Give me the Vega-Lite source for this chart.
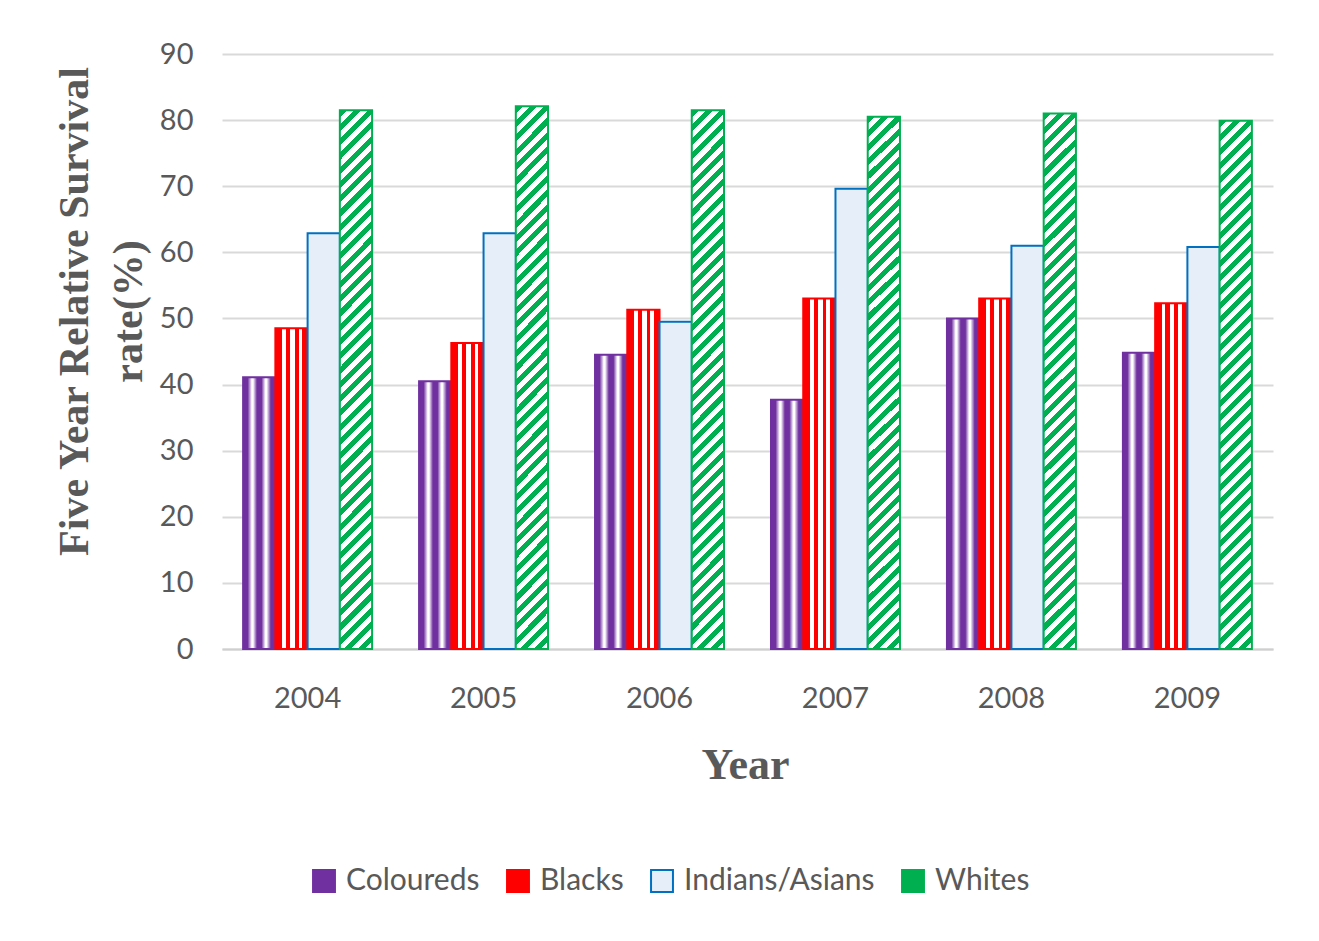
{
  "$schema": "https://vega.github.io/schema/vega-lite/v6.json",
  "autosize": {"type": "none"},
  "width": 1051,
  "height": 595,
  "padding": {"left": 222, "top": 54, "right": 46, "bottom": 292},
  "background": "white",
  "config": {"view": {"stroke": null}, "font": "Lato"},
  "data": {"values": [
    {"year": "2004", "group": "Coloureds", "value": 41.1},
    {"year": "2004", "group": "Blacks", "value": 48.5},
    {"year": "2004", "group": "Indians/Asians", "value": 62.9},
    {"year": "2004", "group": "Whites", "value": 81.5},
    {"year": "2005", "group": "Coloureds", "value": 40.5},
    {"year": "2005", "group": "Blacks", "value": 46.3},
    {"year": "2005", "group": "Indians/Asians", "value": 62.9},
    {"year": "2005", "group": "Whites", "value": 82.1},
    {"year": "2006", "group": "Coloureds", "value": 44.5},
    {"year": "2006", "group": "Blacks", "value": 51.3},
    {"year": "2006", "group": "Indians/Asians", "value": 49.5},
    {"year": "2006", "group": "Whites", "value": 81.5},
    {"year": "2007", "group": "Coloureds", "value": 37.7},
    {"year": "2007", "group": "Blacks", "value": 53.0},
    {"year": "2007", "group": "Indians/Asians", "value": 69.6},
    {"year": "2007", "group": "Whites", "value": 80.5},
    {"year": "2008", "group": "Coloureds", "value": 50.0},
    {"year": "2008", "group": "Blacks", "value": 53.0},
    {"year": "2008", "group": "Indians/Asians", "value": 61.0},
    {"year": "2008", "group": "Whites", "value": 81.0},
    {"year": "2009", "group": "Coloureds", "value": 44.8},
    {"year": "2009", "group": "Blacks", "value": 52.3},
    {"year": "2009", "group": "Indians/Asians", "value": 60.8},
    {"year": "2009", "group": "Whites", "value": 79.9}
  ]},
  "mark": {"type": "bar", "strokeWidth": 2},
  "encoding": {
    "x": {
      "field": "year", "type": "nominal",
      "scale": {"paddingInner": 0.267, "paddingOuter": 0.12},
      "axis": {
        "labelAngle": 0, "domain": true, "domainColor": "#cfcfcf", "domainWidth": 2,
        "ticks": false, "labelFontSize": 29, "labelColor": "#595959", "labelPadding": 35,
        "title": "Year", "titleFont": "Liberation Serif", "titleFontSize": 44,
        "titleFontWeight": "bold", "titleColor": "#595959", "titleBaseline": "alphabetic",
        "titleX": 523, "titleY": 129
      }
    },
    "xOffset": {
      "field": "group", "type": "nominal",
      "sort": ["Coloureds", "Blacks", "Indians/Asians", "Whites"],
      "scale": {"paddingInner": 0, "paddingOuter": 0}
    },
    "y": {
      "field": "value", "type": "quantitative",
      "scale": {"domain": [0, 90]},
      "axis": {
        "values": [0, 10, 20, 30, 40, 50, 60, 70, 80, 90],
        "grid": true, "gridColor": "#d9d9d9", "gridWidth": 2,
        "domain": false, "ticks": false,
        "labelFontSize": 29, "labelColor": "#595959", "labelPadding": 29,
        "title": ["Five Year Relative Survival", "rate(%)"],
        "titleFont": "Liberation Serif", "titleFontSize": 42, "titleFontWeight": "bold",
        "titleColor": "#595959", "titleLineHeight": 54, "titleBaseline": "bottom",
        "titleAngle": -90, "titleAlign": "center",
        "titleX": -126, "titleY": 257
      }
    },
    "fill": {
      "field": "group", "type": "nominal",
      "scale": {
        "domain": ["Coloureds", "Blacks", "Indians/Asians", "Whites"],
        "range": ["#7030a0", "#ff0000", "#e6eff9", "#00b050"]
      },
      "legend": {
        "orient": "none", "legendX": 87, "legendY": 812,
        "direction": "horizontal", "title": null,
        "symbolType": "square", "symbolSize": 480, "symbolStrokeWidth": 2,
        "labelFontSize": 30, "labelColor": "#595959", "labelFont": "Lato", "labelLimit": 400,
        "columnPadding": 23, "labelOffset": 7
      },
      "condition": [
        {"test": "datum.group === 'Coloureds'", "value": {"gradient": "linear", "x1": 0, "y1": 0, "x2": 1, "y2": 0, "stops": [
          {"offset": 0, "color": "#7030a0"}, {"offset": 0.14, "color": "#7030a0"},
          {"offset": 0.27, "color": "#ffffff"}, {"offset": 0.31, "color": "#ffffff"},
          {"offset": 0.43, "color": "#7030a0"}, {"offset": 0.57, "color": "#7030a0"},
          {"offset": 0.69, "color": "#ffffff"}, {"offset": 0.73, "color": "#ffffff"},
          {"offset": 0.86, "color": "#7030a0"}, {"offset": 1, "color": "#7030a0"}
        ]}},
        {"test": "datum.group === 'Blacks'", "value": {"gradient": "linear", "x1": 0, "y1": 0, "x2": 1, "y2": 0, "stops": [
          {"offset": 0, "color": "#ff0000"}, {"offset": 0.2, "color": "#ff0000"},
          {"offset": 0.2, "color": "#ffffff"}, {"offset": 0.32, "color": "#ffffff"},
          {"offset": 0.32, "color": "#ff0000"}, {"offset": 0.46, "color": "#ff0000"},
          {"offset": 0.46, "color": "#ffffff"}, {"offset": 0.6, "color": "#ffffff"},
          {"offset": 0.6, "color": "#ff0000"}, {"offset": 0.72, "color": "#ff0000"},
          {"offset": 0.72, "color": "#ffffff"}, {"offset": 0.84, "color": "#ffffff"},
          {"offset": 0.84, "color": "#ff0000"}, {"offset": 1, "color": "#ff0000"}
        ]}},
        {"test": "datum.group === 'Whites'", "value": {"gradient": "linear", "x1": 0, "y1": 0, "x2": 0.0634, "y2": 1.056, "stops": [
          {"offset": 0, "color": "#00b050"},
          {"offset": 0.0125, "color": "#00b050"}, {"offset": 0.0125, "color": "#ffffff"},
          {"offset": 0.025, "color": "#ffffff"}, {"offset": 0.025, "color": "#00b050"},
          {"offset": 0.0375, "color": "#00b050"}, {"offset": 0.0375, "color": "#ffffff"},
          {"offset": 0.05, "color": "#ffffff"}, {"offset": 0.05, "color": "#00b050"},
          {"offset": 0.0625, "color": "#00b050"}, {"offset": 0.0625, "color": "#ffffff"},
          {"offset": 0.075, "color": "#ffffff"}, {"offset": 0.075, "color": "#00b050"},
          {"offset": 0.0875, "color": "#00b050"}, {"offset": 0.0875, "color": "#ffffff"},
          {"offset": 0.1, "color": "#ffffff"}, {"offset": 0.1, "color": "#00b050"},
          {"offset": 0.1125, "color": "#00b050"}, {"offset": 0.1125, "color": "#ffffff"},
          {"offset": 0.125, "color": "#ffffff"}, {"offset": 0.125, "color": "#00b050"},
          {"offset": 0.1375, "color": "#00b050"}, {"offset": 0.1375, "color": "#ffffff"},
          {"offset": 0.15, "color": "#ffffff"}, {"offset": 0.15, "color": "#00b050"},
          {"offset": 0.1625, "color": "#00b050"}, {"offset": 0.1625, "color": "#ffffff"},
          {"offset": 0.175, "color": "#ffffff"}, {"offset": 0.175, "color": "#00b050"},
          {"offset": 0.1875, "color": "#00b050"}, {"offset": 0.1875, "color": "#ffffff"},
          {"offset": 0.2, "color": "#ffffff"}, {"offset": 0.2, "color": "#00b050"},
          {"offset": 0.2125, "color": "#00b050"}, {"offset": 0.2125, "color": "#ffffff"},
          {"offset": 0.225, "color": "#ffffff"}, {"offset": 0.225, "color": "#00b050"},
          {"offset": 0.2375, "color": "#00b050"}, {"offset": 0.2375, "color": "#ffffff"},
          {"offset": 0.25, "color": "#ffffff"}, {"offset": 0.25, "color": "#00b050"},
          {"offset": 0.2625, "color": "#00b050"}, {"offset": 0.2625, "color": "#ffffff"},
          {"offset": 0.275, "color": "#ffffff"}, {"offset": 0.275, "color": "#00b050"},
          {"offset": 0.2875, "color": "#00b050"}, {"offset": 0.2875, "color": "#ffffff"},
          {"offset": 0.3, "color": "#ffffff"}, {"offset": 0.3, "color": "#00b050"},
          {"offset": 0.3125, "color": "#00b050"}, {"offset": 0.3125, "color": "#ffffff"},
          {"offset": 0.325, "color": "#ffffff"}, {"offset": 0.325, "color": "#00b050"},
          {"offset": 0.3375, "color": "#00b050"}, {"offset": 0.3375, "color": "#ffffff"},
          {"offset": 0.35, "color": "#ffffff"}, {"offset": 0.35, "color": "#00b050"},
          {"offset": 0.3625, "color": "#00b050"}, {"offset": 0.3625, "color": "#ffffff"},
          {"offset": 0.375, "color": "#ffffff"}, {"offset": 0.375, "color": "#00b050"},
          {"offset": 0.3875, "color": "#00b050"}, {"offset": 0.3875, "color": "#ffffff"},
          {"offset": 0.4, "color": "#ffffff"}, {"offset": 0.4, "color": "#00b050"},
          {"offset": 0.4125, "color": "#00b050"}, {"offset": 0.4125, "color": "#ffffff"},
          {"offset": 0.425, "color": "#ffffff"}, {"offset": 0.425, "color": "#00b050"},
          {"offset": 0.4375, "color": "#00b050"}, {"offset": 0.4375, "color": "#ffffff"},
          {"offset": 0.45, "color": "#ffffff"}, {"offset": 0.45, "color": "#00b050"},
          {"offset": 0.4625, "color": "#00b050"}, {"offset": 0.4625, "color": "#ffffff"},
          {"offset": 0.475, "color": "#ffffff"}, {"offset": 0.475, "color": "#00b050"},
          {"offset": 0.4875, "color": "#00b050"}, {"offset": 0.4875, "color": "#ffffff"},
          {"offset": 0.5, "color": "#ffffff"}, {"offset": 0.5, "color": "#00b050"},
          {"offset": 0.5125, "color": "#00b050"}, {"offset": 0.5125, "color": "#ffffff"},
          {"offset": 0.525, "color": "#ffffff"}, {"offset": 0.525, "color": "#00b050"},
          {"offset": 0.5375, "color": "#00b050"}, {"offset": 0.5375, "color": "#ffffff"},
          {"offset": 0.55, "color": "#ffffff"}, {"offset": 0.55, "color": "#00b050"},
          {"offset": 0.5625, "color": "#00b050"}, {"offset": 0.5625, "color": "#ffffff"},
          {"offset": 0.575, "color": "#ffffff"}, {"offset": 0.575, "color": "#00b050"},
          {"offset": 0.5875, "color": "#00b050"}, {"offset": 0.5875, "color": "#ffffff"},
          {"offset": 0.6, "color": "#ffffff"}, {"offset": 0.6, "color": "#00b050"},
          {"offset": 0.6125, "color": "#00b050"}, {"offset": 0.6125, "color": "#ffffff"},
          {"offset": 0.625, "color": "#ffffff"}, {"offset": 0.625, "color": "#00b050"},
          {"offset": 0.6375, "color": "#00b050"}, {"offset": 0.6375, "color": "#ffffff"},
          {"offset": 0.65, "color": "#ffffff"}, {"offset": 0.65, "color": "#00b050"},
          {"offset": 0.6625, "color": "#00b050"}, {"offset": 0.6625, "color": "#ffffff"},
          {"offset": 0.675, "color": "#ffffff"}, {"offset": 0.675, "color": "#00b050"},
          {"offset": 0.6875, "color": "#00b050"}, {"offset": 0.6875, "color": "#ffffff"},
          {"offset": 0.7, "color": "#ffffff"}, {"offset": 0.7, "color": "#00b050"},
          {"offset": 0.7125, "color": "#00b050"}, {"offset": 0.7125, "color": "#ffffff"},
          {"offset": 0.725, "color": "#ffffff"}, {"offset": 0.725, "color": "#00b050"},
          {"offset": 0.7375, "color": "#00b050"}, {"offset": 0.7375, "color": "#ffffff"},
          {"offset": 0.75, "color": "#ffffff"}, {"offset": 0.75, "color": "#00b050"},
          {"offset": 0.7625, "color": "#00b050"}, {"offset": 0.7625, "color": "#ffffff"},
          {"offset": 0.775, "color": "#ffffff"}, {"offset": 0.775, "color": "#00b050"},
          {"offset": 0.7875, "color": "#00b050"}, {"offset": 0.7875, "color": "#ffffff"},
          {"offset": 0.8, "color": "#ffffff"}, {"offset": 0.8, "color": "#00b050"},
          {"offset": 0.8125, "color": "#00b050"}, {"offset": 0.8125, "color": "#ffffff"},
          {"offset": 0.825, "color": "#ffffff"}, {"offset": 0.825, "color": "#00b050"},
          {"offset": 0.8375, "color": "#00b050"}, {"offset": 0.8375, "color": "#ffffff"},
          {"offset": 0.85, "color": "#ffffff"}, {"offset": 0.85, "color": "#00b050"},
          {"offset": 0.8625, "color": "#00b050"}, {"offset": 0.8625, "color": "#ffffff"},
          {"offset": 0.875, "color": "#ffffff"}, {"offset": 0.875, "color": "#00b050"},
          {"offset": 0.8875, "color": "#00b050"}, {"offset": 0.8875, "color": "#ffffff"},
          {"offset": 0.9, "color": "#ffffff"}, {"offset": 0.9, "color": "#00b050"},
          {"offset": 0.9125, "color": "#00b050"}, {"offset": 0.9125, "color": "#ffffff"},
          {"offset": 0.925, "color": "#ffffff"}, {"offset": 0.925, "color": "#00b050"},
          {"offset": 0.9375, "color": "#00b050"}, {"offset": 0.9375, "color": "#ffffff"},
          {"offset": 0.95, "color": "#ffffff"}, {"offset": 0.95, "color": "#00b050"},
          {"offset": 0.9625, "color": "#00b050"}, {"offset": 0.9625, "color": "#ffffff"},
          {"offset": 0.975, "color": "#ffffff"}, {"offset": 0.975, "color": "#00b050"},
          {"offset": 0.9875, "color": "#00b050"}, {"offset": 0.9875, "color": "#ffffff"},
          {"offset": 1, "color": "#ffffff"}
        ]}}
      ]
    },
    "stroke": {
      "field": "group", "type": "nominal",
      "scale": {
        "domain": ["Coloureds", "Blacks", "Indians/Asians", "Whites"],
        "range": ["#7030a0", "#ff0000", "#0070c0", "#00b050"]
      },
      "legend": {
        "orient": "none", "legendX": 87, "legendY": 812,
        "direction": "horizontal", "title": null,
        "symbolType": "square", "symbolSize": 480, "symbolStrokeWidth": 2,
        "labelFontSize": 30, "labelColor": "#595959", "labelFont": "Lato", "labelLimit": 400,
        "columnPadding": 23, "labelOffset": 7
      }
    }
  }
}
